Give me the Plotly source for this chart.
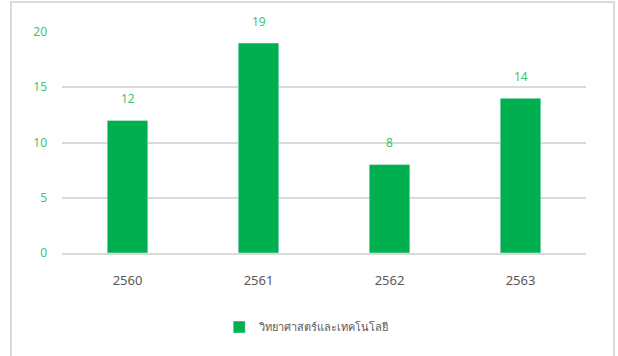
import plotly.graph_objects as go

# Data
years = ['2560', '2561', '2562', '2563']
counts = [12, 19, 8, 14]
series_name = 'วิทยาศาสตร์และเทคโนโลยี'
y_ticks = [0, 5, 10, 15, 20]

BAR_GREEN = '#00B050'
LABEL_GREEN = '#3DC46F'
GRID_GRAY = '#D9D9D9'
TEXT_GRAY = '#595959'

fig = go.Figure(data=[
    go.Bar(
        x=years,
        y=counts,
        name=series_name,
        marker_color=BAR_GREEN,
        showlegend=True,
    )
])

# data labels sit well above the bars, as in the original
# (numeric-looking category names would be read as positions, so use the index)
for i, val in enumerate(counts):
    fig.add_annotation(
        x=i, y=val, text=str(val),
        showarrow=False, yshift=22,
        font=dict(size=12, color=LABEL_GREEN),
    )

fig.update_layout(
    width=618,
    height=356,
    margin=dict(l=62, r=32, t=32, b=103),
    plot_bgcolor='white',
    paper_bgcolor='white',
    font=dict(family='Noto Sans, DejaVu Sans, sans-serif', size=12, color=TEXT_GRAY),
    bargap=0.69,
    showlegend=True,
    legend=dict(
        orientation='h',
        x=0.30, xanchor='left',
        y=-0.335, yanchor='middle',
        font=dict(size=11, color=TEXT_GRAY),
        itemwidth=30,
    ),
    shapes=[
        # outer chart border
        dict(type='rect', xref='paper', yref='paper',
             x0=-0.0973, x1=1.0534, y0=-0.5, y1=1.1357,
             line=dict(color=GRID_GRAY, width=2), layer='below'),
    ],
)

fig.update_xaxes(
    type='category',
    range=[-0.5, len(years) - 0.5],
    showgrid=False,
    showline=True, linecolor=GRID_GRAY, linewidth=2,
    ticks='',
    tickfont=dict(size=13, color=TEXT_GRAY),
    ticklabelstandoff=14,
)
fig.update_yaxes(
    range=[0, 20],
    tickvals=y_ticks,
    showgrid=True, gridcolor=GRID_GRAY, gridwidth=2,
    zeroline=False,
    showline=False,
    tickfont=dict(size=12, color=LABEL_GREEN),
    ticklabelstandoff=14,
)

# drop the browser's default page margin so the chart sits at the window corner
fig.write_html('out.html', config={'displayModeBar': False},
               post_script="document.body.style.margin='0';")
